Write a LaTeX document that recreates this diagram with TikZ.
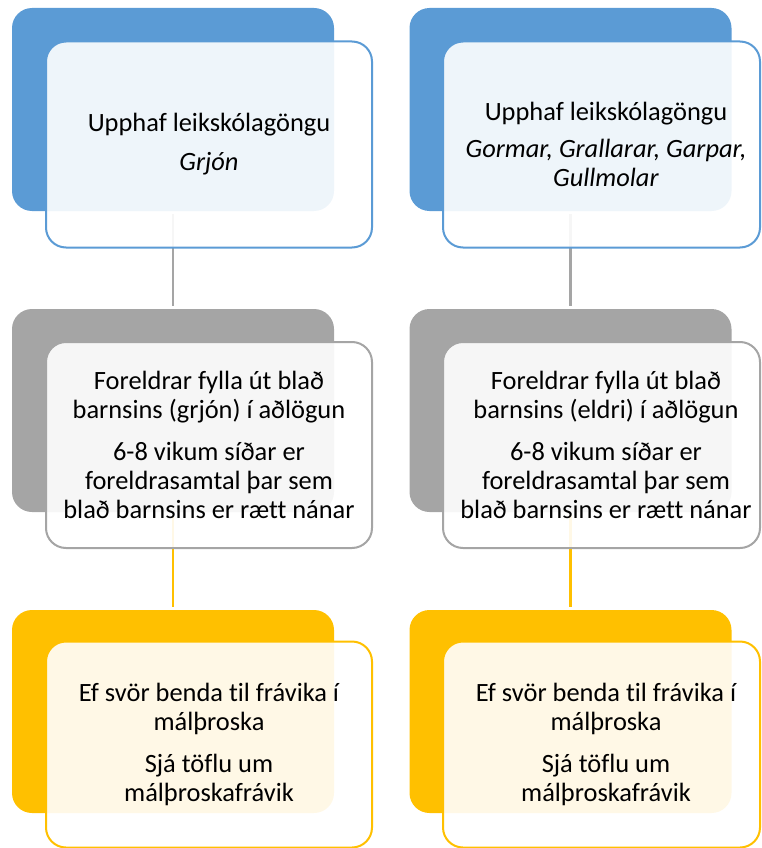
\documentclass[tikz,border=0pt]{standalone}
\usepackage{fontspec}
\setmainfont{Carlito}[RawFeature={-liga}]
\definecolor{cblue}{HTML}{5B9BD5}
\definecolor{cgray}{HTML}{A5A5A5}
\definecolor{cyel}{HTML}{FFC000}
\begin{document}
\begin{tikzpicture}[x=1pt,y=-1pt,
  backbox/.style={rectangle, rounded corners=20pt, fill=#1, draw=none, inner sep=0pt,
    minimum width=322pt, minimum height=203pt},
  frontbox/.style={rectangle, rounded corners=20pt, fill=white, fill opacity=0.9,
    draw=#1, line width=2pt, inner sep=0pt, minimum height=206pt},
  conn/.style={draw=#1, line width=2.5pt, shorten <=3pt, shorten >=3pt},
  txt/.style={align=center, inner sep=0pt, text=black,
    font=\fontsize{26.4}{29}\selectfont}]
\useasboundingbox (0,0) rectangle (761,848);
% back boxes
\node[backbox=cblue] (lb1) at (173,109.5) {};
\node[backbox=cgray] (lb2) at (173,410.5) {};
\node[backbox=cyel]  (lb3) at (173,711.5) {};
\node[backbox=cblue] (rb1) at (570.5,109.5) {};
\node[backbox=cgray] (rb2) at (570.5,410.5) {};
\node[backbox=cyel]  (rb3) at (570.5,711.5) {};
% connectors
\draw[conn=cgray] (lb1.south) -- (lb2.north);
\draw[conn=cyel]  (lb2.south) -- (lb3.north);
\draw[conn=cgray] (rb1.south) -- (rb2.north);
\draw[conn=cyel]  (rb2.south) -- (rb3.north);
% front boxes
\node[frontbox=cblue, minimum width=326pt] (lf1) at (209,144.5) {};
\node[frontbox=cgray, minimum width=326pt] (lf2) at (209,445) {};
\node[frontbox=cyel,  minimum width=326pt] (lf3) at (209,744.5) {};
\node[frontbox=cblue, minimum width=317pt] (rf1) at (601.5,144.5) {};
\node[frontbox=cgray, minimum width=317pt] (rf2) at (601.5,445) {};
\node[frontbox=cyel,  minimum width=317pt] (rf3) at (601.5,744.5) {};
% texts
\node[txt] (lt1) at (209,144.5) {Upphaf leikskólagöngu\\[10pt]\textit{Grjón}};
\node[txt] (lt2) at (209,445) {Foreldrar fylla út blað\\barnsins (grjón) í aðlögun\\[13pt]6-8 vikum síðar er\\foreldrasamtal þar sem\\blað barnsins er rætt nánar};
\node[txt] (lt3) at (209,744.5) {Ef svör benda til frávika í\\málþroska\\[13pt]Sjá töflu um\\málþroskafrávik};
\node[txt] (rt1) at (606,144.5) {Upphaf leikskólagöngu\\[8pt]\textit{Gormar, Grallarar, Garpar,}\\\textit{Gullmolar}};
\node[txt] (rt2) at (606,445) {Foreldrar fylla út blað\\barnsins (eldri) í aðlögun\\[13pt]6-8 vikum síðar er\\foreldrasamtal þar sem\\blað barnsins er rætt nánar};
\node[txt] (rt3) at (606,744.5) {Ef svör benda til frávika í\\málþroska\\[13pt]Sjá töflu um\\málþroskafrávik};
\end{tikzpicture}
\end{document}
